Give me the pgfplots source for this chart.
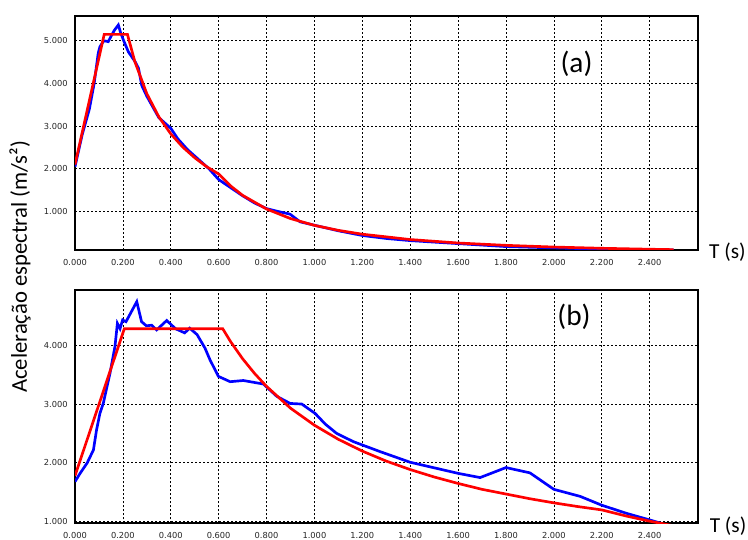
\documentclass[border=0pt]{standalone}
\usepackage{fontspec}
\setmainfont{Carlito}
\newfontfamily\tickfont{DejaVu Sans}
\usepackage{pgfplots}
\pgfplotsset{compat=1.18}

\definecolor{specblue}{RGB}{0,0,255}
\definecolor{specred}{RGB}{255,0,0}

\pgfplotsset{
  spectrum/.style={
    scale only axis,
    width=467.25pt,
    xmin=0, xmax=2.602,
    xtick={0,0.2,0.4,0.6,0.8,1.0,1.2,1.4,1.6,1.8,2.0,2.2,2.4},
    axis line style={line width=1.8pt},
    grid=major,
    major grid style={black, line width=0.55pt, dash pattern=on 1.5pt off 1.5pt},
    major tick length=0pt,
    tick label style={font=\tickfont\fontsize{6.2}{7.5}\selectfont, text=black!85},
    /pgf/number format/fixed,
    /pgf/number format/fixed zerofill,
    /pgf/number format/precision=3,
    /pgf/number format/assume math mode=true,
    xticklabel style={yshift=-3.5pt},
    yticklabel style={xshift=-2pt},
    every axis plot/.append style={line width=2pt, mark=none},
  }
}

\begin{document}
\begin{tikzpicture}
\useasboundingbox (0,0) rectangle (561pt,404.25pt);

% (a)
\begin{axis}[spectrum, name=top, at={(56.25pt,216.75pt)}, anchor=south west,
  height=175.5pt, ymin=0.1, ymax=5.58, ytick={1,2,3,4,5}]
\addplot[specblue] coordinates {
(0,2.05) (0.03,2.8) (0.06,3.4) (0.08,4.0) (0.097,4.71) (0.104,4.86) (0.12,5.0)
(0.139,4.98) (0.15,5.1) (0.165,5.25) (0.181,5.37) (0.19,5.2) (0.202,5.02)
(0.223,4.74) (0.251,4.51) (0.265,4.36) (0.279,3.95) (0.3,3.7) (0.32,3.5)
(0.35,3.2) (0.4,2.95) (0.43,2.7) (0.47,2.45) (0.52,2.2) (0.56,2.0) (0.6,1.75)
(0.65,1.56) (0.7,1.37) (0.75,1.2) (0.8,1.07) (0.85,1.0) (0.898,0.94) (0.94,0.76)
(1.0,0.68) (1.1,0.55) (1.2,0.44) (1.3,0.37) (1.4,0.32) (1.6,0.25) (1.8,0.18)
(2.0,0.15) (2.2,0.12) (2.4,0.105) (2.5,0.1)
};
\addplot[specred] coordinates {
(0,2.1) (0.122,5.15) (0.219,5.15) (0.25,4.51) (0.3,3.76) (0.35,3.22) (0.4,2.82)
(0.45,2.51) (0.5,2.26) (0.55,2.05) (0.6,1.88) (0.65,1.60) (0.7,1.38) (0.8,1.06)
(0.9,0.836) (1.0,0.677) (1.1,0.56) (1.2,0.47) (1.4,0.345) (1.6,0.264)
(1.8,0.209) (2.0,0.169) (2.2,0.14) (2.4,0.118) (2.5,0.108)
};
\node[font=\fontsize{22}{25}\selectfont] at (rel axis cs:0.805,0.797) {(a)};
\end{axis}
\node[font=\fontsize{16}{19}\selectfont] at ([xshift=22pt,yshift=-2pt]top.south east) {T (s)};

% (b)
\begin{axis}[spectrum, name=bottom, at={(56.25pt,11.8pt)}, anchor=south west,
  height=175pt, ymin=0.973, ymax=4.94, ytick={1,2,3,4}]
\addplot[specblue] coordinates {
(0,1.68) (0.021,1.82) (0.051,2.0) (0.077,2.22) (0.09,2.56) (0.104,2.84)
(0.118,3.01) (0.146,3.52) (0.167,3.98) (0.177,4.37) (0.188,4.28) (0.199,4.43)
(0.213,4.40) (0.258,4.74) (0.278,4.40) (0.298,4.33) (0.32,4.34) (0.341,4.26)
(0.383,4.42) (0.42,4.28) (0.458,4.21) (0.479,4.29) (0.51,4.18) (0.543,3.95)
(0.564,3.75) (0.599,3.47) (0.648,3.38) (0.703,3.40) (0.787,3.34) (0.843,3.13)
(0.899,3.01) (0.947,3.0) (1.003,2.84) (1.045,2.66) (1.093,2.50) (1.163,2.36)
(1.275,2.19) (1.40,2.01) (1.602,1.82) (1.692,1.75) (1.80,1.92) (1.90,1.83)
(2.0,1.55) (2.11,1.43) (2.2,1.28) (2.305,1.14) (2.40,1.03) (2.45,0.97)
};
\addplot[specred] coordinates {
(0,1.78) (0.206,4.28) (0.617,4.28) (0.65,4.06) (0.7,3.77) (0.75,3.52) (0.8,3.30)
(0.9,2.93) (1.0,2.64) (1.1,2.40) (1.2,2.20) (1.3,2.03) (1.4,1.886) (1.5,1.76)
(1.6,1.65) (1.7,1.55) (1.8,1.47) (1.9,1.39) (2.0,1.32) (2.1,1.257) (2.2,1.20)
(2.3,1.098) (2.4,1.009) (2.5,0.93)
};
\node[font=\fontsize{22}{25}\selectfont] at (rel axis cs:0.801,0.884) {(b)};
\end{axis}
\node[font=\fontsize{16}{19}\selectfont] at ([xshift=22.5pt,yshift=-2pt]bottom.south east) {T (s)};

\node[rotate=90, font=\fontsize{17}{20}\selectfont] at (15pt,204pt) {Aceleração espectral (m/s²)};
\end{tikzpicture}
\end{document}
